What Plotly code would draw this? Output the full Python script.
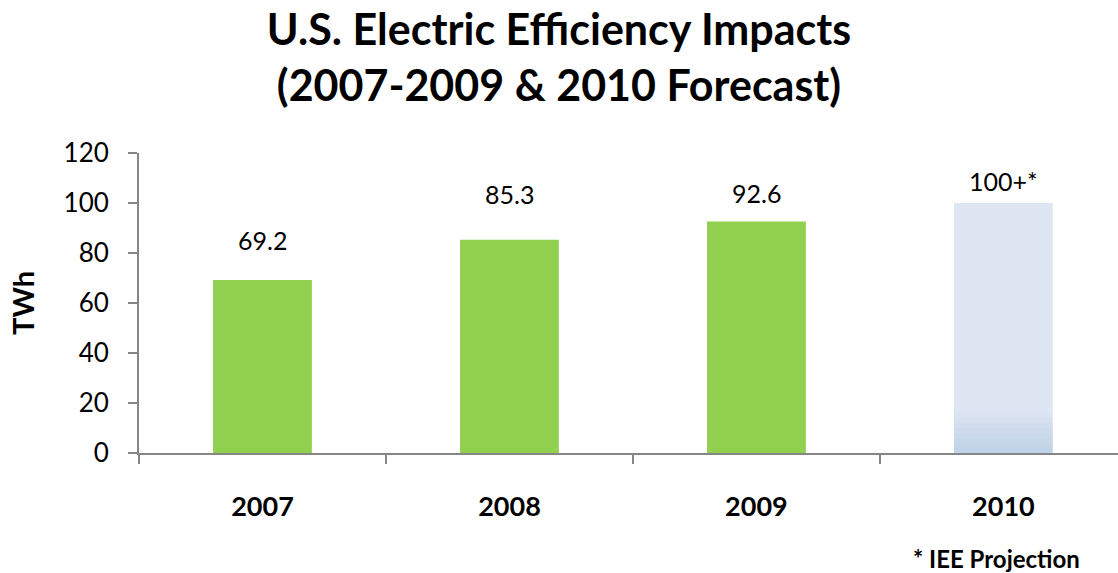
import plotly.graph_objects as go

years = ["2007", "2008", "2009", "2010"]
twh = [69.2, 85.3, 92.6, 100]
value_labels = ["69.2", "85.3", "92.6", "100+*"]
is_forecast = [False, False, False, True]
y_ticks = [0, 20, 40, 60, 80, 100, 120]

GREEN = "#92D050"
FORECAST = "#DFE6F3"
FONT = "Lato"
label_shift = [40, 46, 29, 22]  # px from bar top to label centre (style)

bar_colors = [FORECAST if f else GREEN for f in is_forecast]

fig = go.Figure()
fig.add_trace(go.Bar(x=years, y=twh, marker=dict(color=bar_colors, line=dict(width=0)),
                     width=0.4, showlegend=False, hoverinfo="x+y"))

# bottom gradient of the forecast bar, built from translucent overlays
GRAD_STEPS = 8
GRAD_H = 16
fx = [y for y, f in zip(years, is_forecast) if f]
for i in range(GRAD_STEPS):
    h = GRAD_H * (i + 1) / GRAD_STEPS
    fig.add_trace(go.Bar(x=fx, y=[h] * len(fx), width=0.4,
                         marker=dict(color="rgba(150,180,225,0.058)", line=dict(width=0)),
                         showlegend=False, hoverinfo="skip"))

for i, (v, lab, s) in enumerate(zip(twh, value_labels, label_shift)):
    fig.add_annotation(x=i, y=v, text=lab, showarrow=False, xanchor="center", yanchor="middle",
                       yshift=s, font=dict(family=FONT, size=25, color="black"))

fig.add_annotation(xref="paper", yref="paper", x=0, y=0.5, xshift=-117, xanchor="center",
                   yanchor="middle", text="<b>TWh</b>", textangle=-90, showarrow=False,
                   font=dict(family=FONT, size=29, color="black"))
fig.add_annotation(xref="paper", yref="paper", x=0.876, y=-0.35, xanchor="center",
                   yanchor="middle", text="<b>* IEE Projection</b>", showarrow=False,
                   font=dict(family=FONT, size=24, color="black"))

fig.update_layout(
    width=1118, height=573,
    margin=dict(l=139, r=0, t=153, b=120),
    paper_bgcolor="white", plot_bgcolor="white",
    barmode="overlay",
    title=dict(text="<b>U.S. Electric Efficiency Impacts<br>(2007-2009 & 2010 Forecast)</b>",
               x=0.5, xref="container", xanchor="center", y=1 - 45 / 573, yref="container",
               yanchor="middle", font=dict(family=FONT, size=43, color="black")),
    xaxis=dict(type="category", range=[-0.5, 3.464], showline=True, linecolor="#868686",
               linewidth=2, ticks="outside", tickson="boundaries", ticklen=9,
               tickcolor="#868686", tickwidth=2,
               tickfont=dict(family=FONT, size=27, color="black", weight="bold"),
               ticklabelstandoff=29, showgrid=False, zeroline=False, fixedrange=True),
    yaxis=dict(range=[0, 120], tickvals=y_ticks, showline=True, linecolor="#868686", linewidth=2,
               ticks="outside", ticklen=9, tickcolor="#868686", tickwidth=2,
               tickfont=dict(family=FONT, size=26, color="black"),
               ticklabelstandoff=14, showgrid=False, zeroline=False),
)

fig.write_html("out.html", config={"displayModeBar": False},
               post_script="document.body.style.margin='0';")
